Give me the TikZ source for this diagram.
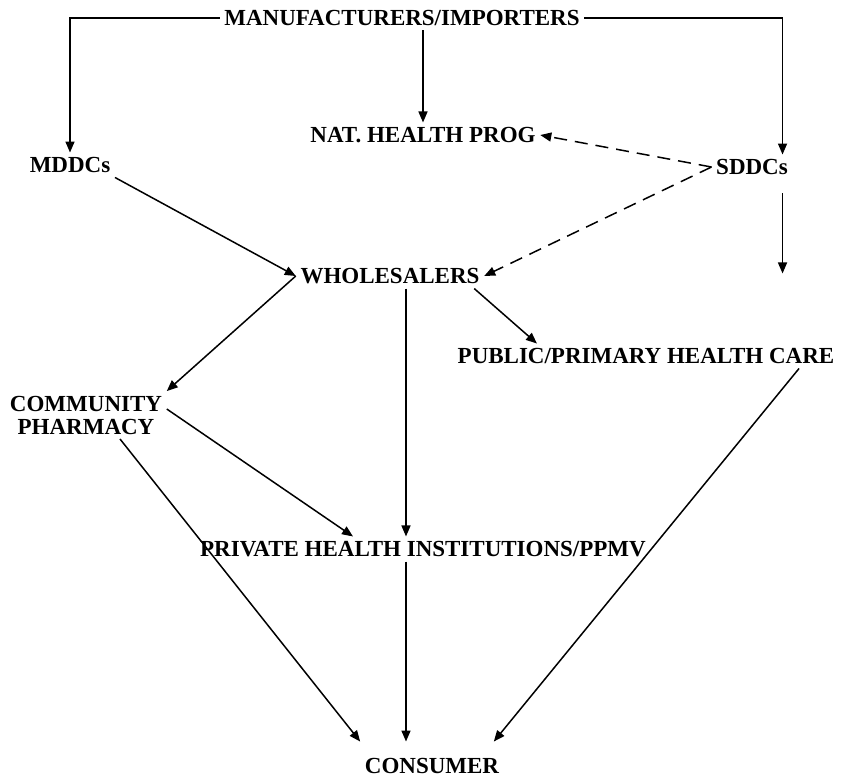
\documentclass[tikz,border=0pt]{standalone}
\usepackage{fontspec}
\setmainfont{Liberation Serif}
\usepackage{tikz}
\usetikzlibrary{arrows.meta}

\begin{document}
\begin{tikzpicture}[x=0.5pt,y=-0.5pt,>={Triangle[length=5.5pt,width=4.5pt]},line width=0.75pt]
\tikzstyle{every node}+=[inner sep=2pt,font=\bfseries\fontsize{11.5}{11.5}\selectfont]
\useasboundingbox (0,0) rectangle (842,778);
\node (manu) at (402,18) {MANUFACTURERS/IMPORTERS};
\node (nhp) at (423,135) {NAT. HEALTH PROG};
\node (mddc) at (70,165) {MDDCs};
\node (sddc) at (752,167) {SDDCs};
\node (whole) at (390,276) {WHOLESALERS};
\node (phc) at (646,356) {PUBLIC/PRIMARY HEALTH CARE};
\node [align=center] (comm) at (86,415) {COMMUNITY\\PHARMACY};
\node (priv) at (423,549) {PRIVATE HEALTH INSTITUTIONS/PPMV};
\node [inner ysep=8pt] (cons) at (432,766) {CONSUMER};
\coordinate (sdown) at ([xshift=-5pt,yshift=-47pt]sddc.south east);
% from the manufacturers
\draw [->] (manu.west) -| (mddc.north);
\draw [->] (manu.east) -| ([xshift=-5pt]sddc.north east);
\draw [->] (manu.south -| nhp.north) -- (nhp.north);
% distribution centres
\draw [->,dash pattern=on 6.5pt off 4pt] (sddc.west) -- (nhp.east);
\draw [->,dash pattern=on 6.5pt off 4pt] (sddc.west) -- (whole.east);
\draw [->] ([xshift=-5pt,yshift=-7pt]sddc.south east) -- (sdown);
\draw [->] (mddc.south east) -- (whole.west);
% wholesalers
\draw [->] (whole.west) -- (comm.north east);
\draw [->] ([xshift=-5pt]whole.south east) -- ([xshift=42pt]phc.north west);
\draw [->] ([xshift=8pt]whole.south) -- ([xshift=8pt]whole.south |- priv.north);
% to the consumer
\draw [->] ([yshift=3pt]comm.east) -- ([xshift=-35pt]priv.north);
\draw [->] ([xshift=17pt]comm.south) -- (cons.north west);
\draw [->] ([xshift=8pt]whole.south |- priv.south) -- ([xshift=8pt]whole.south |- cons.north);
\draw [->] ([xshift=-20pt]phc.south east) -- ([xshift=-5pt]cons.north east);
\end{tikzpicture}
\end{document}
